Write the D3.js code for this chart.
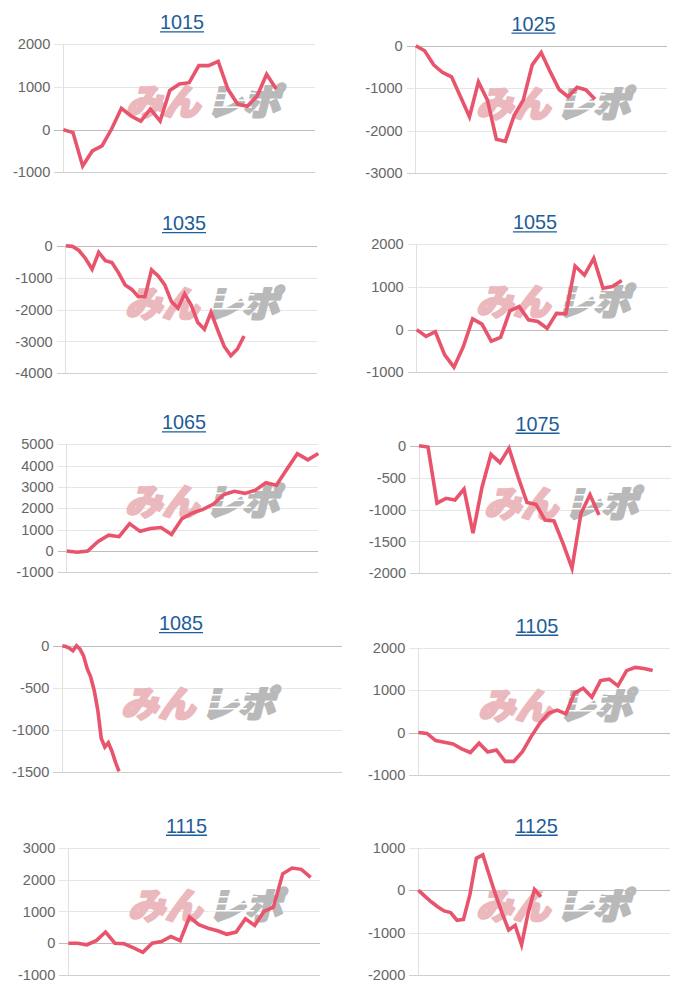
<!DOCTYPE html>
<html>
<head>
<meta charset="utf-8">
<script src="https://cdn.jsdelivr.net/npm/d3@7"></script>
<style>
  html, body { margin: 0; padding: 0; background: #fff; }
  svg { display: block; }
</style>
</head>
<body>
<div id="chart"></div>
<script>
// ---------- data ----------
const titles = ["1015", "1025", "1035", "1055", "1065", "1075", "1085", "1105", "1115", "1125"];

const s1015 = [0, -70, -850, -500, -380, 20, 500, 320, 200, 480, 200, 920, 1070, 1100, 1500, 1500, 1600, 950, 600, 550, 780, 1300, 950];
const s1025 = [0, -120, -450, -630, -730, -1200, -1670, -850, -1280, -2200, -2250, -1630, -1280, -450, -160, -610, -1030, -1200, -980, -1040, -1260];
const s1035 = [0, -20, -150, -400, -740, -210, -470, -530, -850, -1230, -1370, -1600, -1600, -760, -950, -1230, -1750, -1960, -1510, -1860, -2410, -2620, -2090, -2640, -3160, -3450, -3240, -2830];
const s1055 = [0, -160, -50, -590, -880, -400, 250, 130, -270, -180, 440, 540, 230, 190, 30, 380, 370, 1490, 1280, 1670, 970, 1010, 1150];
const s1065 = [0, -60, 0, 450, 740, 670, 1280, 920, 1050, 1100, 770, 1520, 1780, 1950, 2200, 2650, 2800, 2700, 2850, 3200, 3080, 3830, 4560, 4270, 4570];
const s1075 = [0, -20, -900, -825, -850, -680, -1370, -650, -135, -265, -40, -485, -890, -920, -1165, -1180, -1530, -1920, -1060, -770, -1085];
const s1085 = [0, -10, -30, -60, 0, -40, -120, -270, -370, -530, -760, -1100, -1200, -1150, -1250, -1380, -1490];
const s1105 = [0, -20, -190, -230, -270, -385, -470, -250, -460, -410, -680, -680, -450, -95, 220, 455, 530, 440, 930, 1045, 835, 1225, 1260, 1100, 1460, 1535, 1510, 1460];
const s1115 = [0, 0, -50, 80, 350, 0, -20, -150, -290, 0, 50, 210, 80, 820, 580, 470, 390, 280, 350, 770, 560, 1000, 1130, 2180, 2360, 2320, 2070];
const s1125 = [0, -140, -275, -390, -490, -530, -710, -690, -100, 750, 830, 350, -120, -550, -940, -830, -1290, -550, 15, -160];

const seriesList = [s1015, s1025, s1035, s1055, s1065, s1075, s1085, s1105, s1115, s1125];

// number of x categories on each chart's axis
const xCounts = [27, 29, 39, 28, 25, 29, 80, 30, 28, 40];

// y tick labels per chart
const ticks1015 = [2000, 1000, 0, -1000];
const ticks1025 = [0, -1000, -2000, -3000];
const ticks1035 = [0, -1000, -2000, -3000, -4000];
const ticks1055 = [2000, 1000, 0, -1000];
const ticks1065 = [5000, 4000, 3000, 2000, 1000, 0, -1000];
const ticks1075 = [0, -500, -1000, -1500, -2000];
const ticks1085 = [0, -500, -1000, -1500];
const ticks1105 = [2000, 1000, 0, -1000];
const ticks1115 = [3000, 2000, 1000, 0, -1000];
const ticks1125 = [1000, 0, -1000, -2000];
const tickList = [ticks1015, ticks1025, ticks1035, ticks1055, ticks1065, ticks1075, ticks1085, ticks1105, ticks1115, ticks1125];

// ---------- layout (positions kept separate from data) ----------
const layout = [
  { left: 63.3,  right: 315,   top: 44.3,  bottom: 172.3, titleX: 182,   titleY: 29.3 },
  { left: 415.7, right: 666.7, top: 45.7,  bottom: 173.3, titleX: 533.5, titleY: 30.5 },
  { left: 65.7,  right: 316.7, top: 245.7, bottom: 373.3, titleX: 184,   titleY: 230 },
  { left: 416.7, right: 668.3, top: 244.3, bottom: 372.3, titleX: 535,   titleY: 229.3 },
  { left: 66.7,  right: 318.3, top: 444.3, bottom: 572.3, titleX: 184,   titleY: 429.3 },
  { left: 419,   right: 671,   top: 445.7, bottom: 573.3, titleX: 537.5, titleY: 430.7 },
  { left: 62.3,  right: 342.3, top: 645.7, bottom: 772.3, titleX: 181,   titleY: 630 },
  { left: 418.3, right: 670,   top: 647.7, bottom: 775,   titleX: 537,   titleY: 632.7 },
  { left: 68.3,  right: 320,   top: 847.7, bottom: 975,   titleX: 186.5, titleY: 832.7 },
  { left: 418.3, right: 670,   top: 847.7, bottom: 975,   titleX: 536.5, titleY: 832.7 }
];
const wmLeft = [120, 470, 119, 470, 119, 478, 115, 472, 122, 470];

const W = 700, H = 1000;
const LINE = "#e9546d";
const TITLE = "#1d5d99";
const FONT = "'Liberation Sans', Arial, Helvetica, sans-serif";

const svg = d3.select("#chart").append("svg")
  .attr("width", W).attr("height", H)
  .attr("viewBox", `0 0 ${W} ${H}`);
svg.append("rect").attr("width", W).attr("height", H).attr("fill", "#fff");

titles.forEach((t, k) => {
  const L = layout[k];
  const data = seriesList[k];
  const ticks = tickList[k];
  const g = svg.append("g").attr("class", "panel");

  const x = d3.scaleLinear().domain([0, xCounts[k] - 1]).range([L.left, L.right]);
  const y = d3.scaleLinear().domain([d3.min(ticks), d3.max(ticks)]).range([L.bottom, L.top]);

  // title with underline
  const tt = g.append("text")
    .attr("x", L.titleX).attr("y", L.titleY)
    .attr("text-anchor", "middle")
    .attr("font-family", FONT).attr("font-size", 19.8)
    .attr("fill", TITLE)
    .text(t);
  const tw = tt.node().getComputedTextLength();
  g.append("line")
    .attr("x1", L.titleX - tw / 2).attr("x2", L.titleX + tw / 2)
    .attr("y1", L.titleY + 2.6).attr("y2", L.titleY + 2.6)
    .attr("stroke", TITLE).attr("stroke-width", 1.4);

  // y axis via d3.axisLeft, restyled as grid
  const axis = d3.axisLeft(y)
    .tickValues(ticks)
    .tickFormat(d => String(d))
    .tickSize(-(L.right - L.left) - 9)
    .tickPadding(4);
  const ag = g.append("g")
    .attr("transform", `translate(${L.left - 9},0)`)
    .call(axis);
  ag.select(".domain").remove();
  ag.selectAll(".tick line")
    .attr("stroke", d => d === 0 ? "#bdbdbd" : (d === d3.min(ticks) ? "#cfcfcf" : "#e6e6e6"))
    .attr("stroke-width", 1)
    .attr("shape-rendering", "crispEdges");
  ag.selectAll(".tick text")
    .attr("font-family", FONT).attr("font-size", 14.6)
    .attr("fill", "#666");

  // left border line
  g.append("line")
    .attr("x1", L.left).attr("x2", L.left)
    .attr("y1", L.top).attr("y2", L.bottom)
    .attr("stroke", "#e0e0e0").attr("stroke-width", 1)
    .attr("shape-rendering", "crispEdges");

  // watermark (みんレポ)
  const wx = wmLeft[k];
  const wy = L.top + 43;
  const wm = g.append("g").attr("class", "watermark")
    .attr("transform", `translate(${wx},${wy + 28}) skewX(-14)`);
  wm.append("text")
    .attr("x", 6).attr("y", 0)
    .attr("font-family", "'Noto Sans CJK JP', sans-serif")
    .attr("font-weight", 900).attr("font-size", 36)
    .attr("textLength", 74).attr("lengthAdjust", "spacingAndGlyphs")
    .attr("fill", "#ebb9bd").attr("stroke", "#ebb9bd").attr("stroke-width", 2.4)
    .attr("stroke-linejoin", "round")
    .text("みん");
  wm.append("text")
    .attr("x", 86).attr("y", 0)
    .attr("font-family", "'Noto Sans CJK JP', sans-serif")
    .attr("font-weight", 900).attr("font-size", 36)
    .attr("textLength", 74).attr("lengthAdjust", "spacingAndGlyphs")
    .attr("fill", "#b9b9b9").attr("stroke", "#b9b9b9").attr("stroke-width", 2.4)
    .attr("stroke-linejoin", "round")
    .text("レポ");
  // speed stripes across the grey part
  [-22, -15, -8].forEach(dy => {
    wm.append("line")
      .attr("x1", 84).attr("x2", 130)
      .attr("y1", dy).attr("y2", dy)
      .attr("stroke", "#fff").attr("stroke-width", 1.6);
  });

  // series line
  const line = d3.line()
    .x((d, i) => x(i))
    .y(d => y(d));
  g.append("path")
    .datum(data)
    .attr("d", line)
    .attr("fill", "none")
    .attr("stroke", LINE)
    .attr("stroke-width", 3.6)
    .attr("stroke-linejoin", "miter")
    .attr("stroke-miterlimit", 4);
});
</script>
</body>
</html>
